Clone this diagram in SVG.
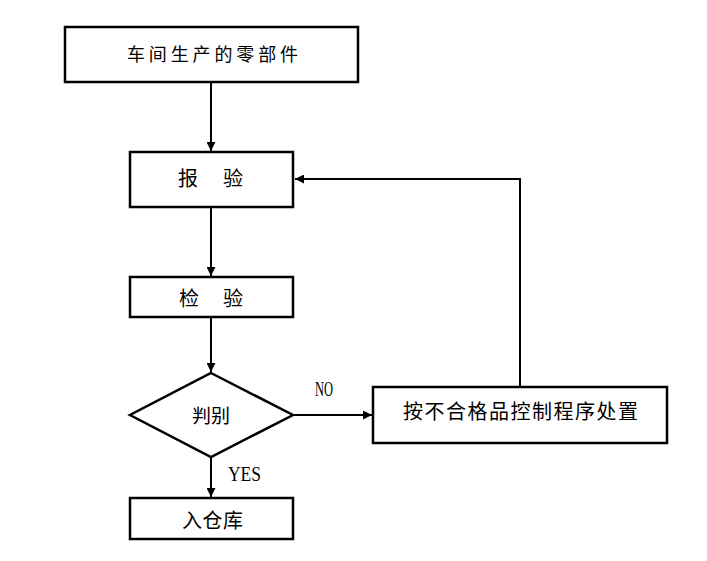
<svg xmlns="http://www.w3.org/2000/svg" width="707" height="561" viewBox="0 0 707 561">
<style>
.box{fill:#fff;stroke:#000;stroke-width:2.5}
.cn{font-family:"Noto Sans CJK SC","Noto Sans",sans-serif;fill:#000;dominant-baseline:central}
.en{font-family:"Liberation Serif",serif;font-size:20px;fill:#000}
.ln{fill:none;stroke:#000;stroke-width:2}
</style>
<defs>
<marker id="ah" viewBox="0 0 10 10" refX="10" refY="5" markerWidth="10" markerHeight="9" markerUnits="userSpaceOnUse" orient="auto">
<path d="M0,0 L10,5 L0,10 Z" fill="#000"/>
</marker>
</defs>
<rect width="707" height="561" fill="#fff"/>
<g id="connectors">
<line class="ln" x1="211" y1="82" x2="211" y2="151" marker-end="url(#ah)"/>
<line class="ln" x1="211" y1="207" x2="211" y2="276" marker-end="url(#ah)"/>
<line class="ln" x1="211" y1="317" x2="211" y2="372" marker-end="url(#ah)"/>
<line class="ln" x1="211" y1="457" x2="211" y2="497" marker-end="url(#ah)"/>
<line class="ln" x1="293" y1="415" x2="372" y2="415" marker-end="url(#ah)"/>
<polyline class="ln" points="520,387 520,179 295,179" marker-end="url(#ah)"/>
<text class="en" x="315" y="396" textLength="18" lengthAdjust="spacingAndGlyphs">NO</text>
<text class="en" x="228" y="481" textLength="33" lengthAdjust="spacingAndGlyphs">YES</text>
</g>
<g id="n1">
<rect class="box" x="65" y="27" width="293" height="55"/>
<text class="cn" x="127" y="53" font-size="18" textLength="171" lengthAdjust="spacing">车间生产的零部件</text>
</g>
<g id="n2">
<rect class="box" x="130" y="152" width="163" height="55"/>
<text class="cn" y="177" font-size="20"><tspan x="178">报</tspan><tspan x="223">验</tspan></text>
</g>
<g id="n3">
<rect class="box" x="130" y="277" width="163" height="40"/>
<text class="cn" y="297" font-size="20"><tspan x="179">检</tspan><tspan x="223">验</tspan></text>
</g>
<g id="n4">
<polygon class="box" points="211,373 293,415 211,457 130,415"/>
<text class="cn" x="192" y="414" font-size="19" textLength="38" lengthAdjust="spacing">判别</text>
</g>
<g id="n5">
<rect class="box" x="130" y="498" width="163" height="41"/>
<text class="cn" x="182" y="519" font-size="20" textLength="61" lengthAdjust="spacing">入仓库</text>
</g>
<g id="n6">
<rect class="box" x="373" y="387" width="294" height="56"/>
<text class="cn" x="403" y="410" font-size="20" textLength="235" lengthAdjust="spacing">按不合格品控制程序处置</text>
</g>
</svg>
